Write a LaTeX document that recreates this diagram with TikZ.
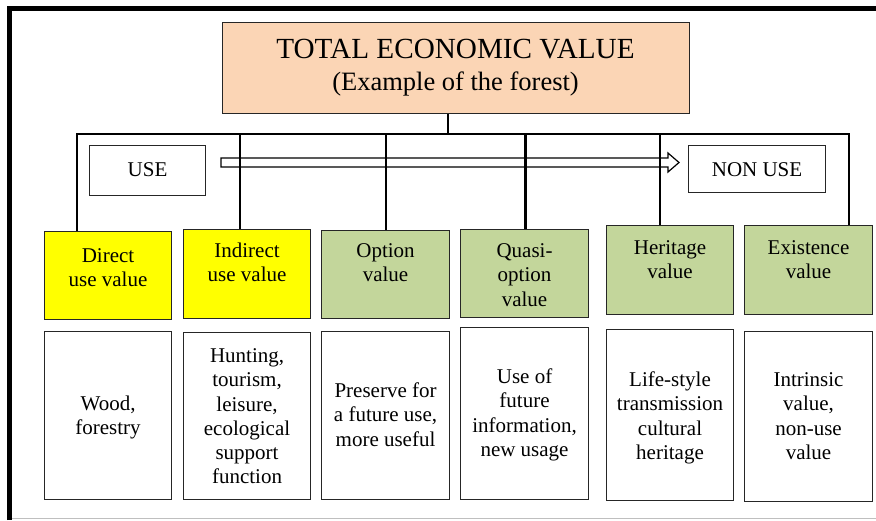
\documentclass[tikz,border=0pt]{standalone}
\usepackage{fontspec}
\setmainfont{Liberation Serif}
\newfontfamily\tnr{Liberation Serif}
\usetikzlibrary{calc}
\definecolor{peach}{HTML}{FBD5B5}
\definecolor{leaf}{HTML}{C3D69B}
\definecolor{yel}{HTML}{FFFF00}
\begin{document}
\begin{tikzpicture}[x=1pt,y=-1pt,
  box/.style={draw=black!85, line width=1.1pt, inner sep=0pt, anchor=north west},
  ybox/.style={box, fill=yel},
  gbox/.style={box, fill=leaf},
  wbox/.style={box, fill=white},
  txt/.style={inner sep=0pt, align=center, anchor=north, font=\tnr\fontsize{21}{24.3}\selectfont},
  conn/.style={line width=2pt, black},
]
\useasboundingbox (0,0) rectangle (876,520);
\fill[white] (0,0) rectangle (876,520);
% outer frame
\draw[line width=4.5pt] (9.5,520) -- (9.5,8.5) -- (876,8.5);
\draw[black!25, line width=1pt] (12,518.5) -- (876,518.5);

% title
\node[box, fill=peach, minimum width=467pt, minimum height=91pt] (title) at (222,22) {};
\node[inner sep=0pt, anchor=base, font=\tnr\fontsize{29.2}{34}\selectfont] (t1) at (455.5,58.3) {TOTAL ECONOMIC VALUE};
\node[inner sep=0pt, anchor=base, font=\tnr\fontsize{26.5}{30}\selectfont] (t2) at (455.5,90) {(Example of the forest)};

% use / non use
\node[wbox, minimum width=116pt, minimum height=50pt] (use) at (89,145) {};
\node[inner sep=0pt, anchor=base, font=\tnr\fontsize{21}{24}\selectfont] (uset) at (use.center |- 0,176) {USE};
\node[wbox, minimum width=137pt, minimum height=47pt] (nonuse) at (688,145) {};
\node[inner sep=0pt, anchor=base, font=\tnr\fontsize{21}{24}\selectfont] (nonuset) at (nonuse.center |- 0,176) {NON USE};

% row 1
\node[ybox, minimum width=127pt, minimum height=88pt] (v1) at (44,231) {};
\node[ybox, minimum width=127pt, minimum height=89pt] (v2) at (183,229) {};
\node[gbox, minimum width=128pt, minimum height=88pt] (v3) at (321,230) {};
\node[gbox, minimum width=128pt, minimum height=88pt] (v4) at (460,229) {};
\node[gbox, minimum width=127pt, minimum height=89pt] (v5) at (606,225) {};
\node[gbox, minimum width=128pt, minimum height=89pt] (v6) at (744,225) {};

\node[txt] (v1t) at (v1.center |- 0,245.2) {\strut Direct\\use value\strut};
\node[txt] (v2t) at (v2.center |- 0,240.2) {\strut Indirect\\use value\strut};
\node[txt] (v3t) at (v3.center |- 0,240.2) {\strut Option\\value\strut};
\node[txt] (v4t) at (v4.center |- 0,240.2) {\strut Quasi-\\option\\value\strut};
\node[txt] (v5t) at (v5.center |- 0,237.2) {\strut Heritage\\value\strut};
\node[txt] (v6t) at (v6.center |- 0,237.2) {\strut Existence\\value\strut};

% row 2
\node[wbox, minimum width=127pt, minimum height=168pt] (d1) at (44,331) {};
\node[wbox, minimum width=127pt, minimum height=167pt] (d2) at (183,332) {};
\node[wbox, minimum width=128pt, minimum height=168pt] (d3) at (321,331) {};
\node[wbox, minimum width=128pt, minimum height=172pt] (d4) at (460,327) {};
\node[wbox, minimum width=127pt, minimum height=171pt] (d5) at (606,329) {};
\node[wbox, minimum width=128pt, minimum height=170pt] (d6) at (744,331) {};

\node[txt] (d1t) at (d1.center |- 0,393.2) {\strut Wood,\\forestry\strut};
\node[txt] (d2t) at (d2.center |- 0,345.2) {\strut Hunting,\\tourism,\\leisure,\\ecological\\support\\function\strut};
\node[txt] (d3t) at (d3.center |- 0,380.2) {\strut Preserve for\\a future use,\\more useful\strut};
\node[txt] (d4t) at (d4.center |- 0,366.2) {\strut Use of\\future\\information,\\new usage\strut};
\node[txt] (d5t) at (d5.center |- 0,369.2) {\strut Life-style\\transmission\\cultural\\heritage\strut};
\node[txt] (d6t) at (d6.center |- 0,369.2) {\strut Intrinsic\\value,\\non-use\\value\strut};

% hollow arrow USE -> NON USE
\coordinate (aS) at (221,162.5);
\coordinate (aE) at (679,162.5);
\draw[line width=1.2pt, line join=miter]
  ($(aS)+(0,-4.5)$) -- ($(aE)+(-11,-4.5)$) -- ($(aE)+(-11,-9.5)$) -- (aE)
  -- ($(aE)+(-11,9.5)$) -- ($(aE)+(-11,4.5)$) -- ($(aS)+(0,4.5)$) -- cycle;

% connectors
\coordinate (busL) at (77,134);
\coordinate (busR) at (849,134);
\coordinate (stem) at (448,134);
\draw[conn] (title.south -| stem) -- (stem);
\draw[conn] (busL |- v1.north) -- (busL) -- (busR) -- (busR |- v6.north);
\draw[conn] (240,134) -- (240,0 |- v2.north);
\draw[conn] (386,134) -- (386,0 |- v3.north);
\draw[conn, line width=3pt] (525,134) -- (525,0 |- v4.north);
\draw[conn] (660,134) -- (660,0 |- v5.north);
\end{tikzpicture}
\end{document}
